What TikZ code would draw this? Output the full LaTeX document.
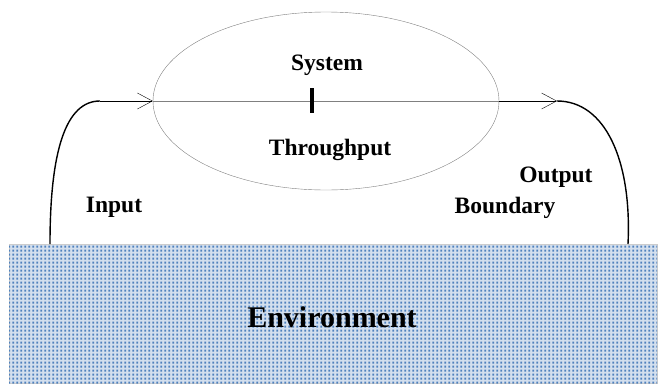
\documentclass[tikz,border=0pt]{standalone}
\usepackage{fontspec}
\setmainfont{Liberation Serif}
\usetikzlibrary{positioning, arrows.meta, shapes.geometric, patterns.meta}
\definecolor{envblue}{RGB}{79,129,189}
\tikzdeclarepattern{
  name=envdots, type=uncolored,
  bottom left={(0pt,0pt)}, top right={(4pt,4pt)},
  tile size={(4pt,4pt)},
  code={\fill (0.4pt,0.4pt) rectangle (2.8pt,2.8pt);}
}
\tikzstyle{system} = [
  ellipse,
  minimum width=346pt, minimum height=178pt,
  inner sep=0pt,
  draw=gray, thin
]
\tikzstyle{environment} = [
  rectangle,
  minimum width=648pt, minimum height=139pt,
  inner sep=0pt,
  draw=gray!40, fill=envblue!25,
  postaction={pattern=envdots, pattern color=envblue}
]
\tikzstyle{lbl} = [
  font=\fontsize{23.5}{28}\selectfont\bfseries,
  inner sep=0pt, anchor=base
]
\tikzset{
  arrow/.style={thin, -{Straight Barb[length=15pt,width=16pt]}},
  flow/.style={line width=1.4pt}
}

\begin{document}
\begin{tikzpicture}[x=1pt, y=-1pt]
\useasboundingbox (0,0) rectangle (658,383);

% ------------------------------------------------
% ENTORNO (abajo)
% ------------------------------------------------

% env: caja punteada
\node[environment] (env) at (333,313.5) {};
\node[lbl, font=\fontsize{30}{36}\selectfont\bfseries] (envTxt) at (332,327) {Environment};

% ------------------------------------------------
% SISTEMA (arriba)
% ------------------------------------------------

% sys: elipse
\node[system] (sys) at (326,101) {};
\draw[gray, line width=0.6pt] (sys.west) -- (sys.east);
\node[rectangle, fill=black, inner sep=0pt, minimum width=4pt, minimum height=25pt] (tick) at (312,100.5) {};

\node[lbl] (sysTxt) at (327,70) {System};
\node[lbl] (thrTxt) at (330,155) {Throughput};

% ------------------------------------------------
% FLECHAS
% ------------------------------------------------

% entrada
\coordinate (inBot) at (50,244);
\coordinate (inTop) at (100,101);
\draw[flow] (inBot) .. controls (50,150) and (66,101) .. (inTop);
\draw[arrow] (inTop) -- (sys.west);

% salida
\coordinate (outTop) at (557,101);
\coordinate (outBot) at (628,244);
\draw[arrow] (sys.east) -- (outTop);
\draw[flow] (outTop) .. controls (605,101) and (632,160) .. (outBot);

\node[lbl] (inTxt) at (114,212) {Input};
\node[lbl] (outTxt) at (556,182) {Output};
\node[lbl] (bndTxt) at (505,213) {Boundary};

\end{tikzpicture}
\end{document}
